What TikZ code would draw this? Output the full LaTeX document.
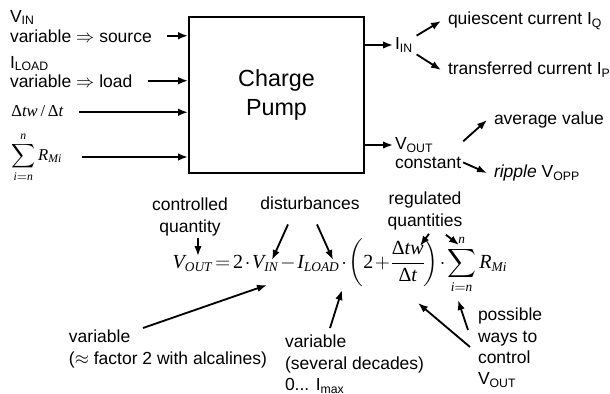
\documentclass[tikz,border=0pt]{standalone}
\usepackage{amsmath}
\usepackage{fontspec}
\setmainfont{Liberation Sans}
\newfontfamily\tms{Liberation Serif}
\newcommand{\ti}[1]{\text{\tms\itshape #1}}
\newcommand{\tu}[1]{\text{\tms #1}}
\usetikzlibrary{arrows.meta}

\tikzset{
  lbl/.style={font=\fontsize{10.5}{12.8}\selectfont, inner sep=1pt, align=left},
  mth/.style={font=\fontsize{10}{12}\selectfont, inner sep=0pt},
  arr/.style={line width=1.1pt, -{Latex[length=6pt,width=4.5pt]}},
}

\begin{document}
\begin{tikzpicture}[x=0.6pt,y=-0.6pt]
\useasboundingbox (0,0) rectangle (610,394);
\node[draw,line width=1.1pt,minimum width=105pt,minimum height=93.6pt,font=\fontsize{14}{17}\selectfont,align=center] (cp) at (276.5,95) {Charge\\Pump};
% inputs
\node[lbl,anchor=base west] (vin) at (8,22) {V\textsubscript{IN}};
\node[lbl,anchor=base west] (src) at (8,42) {variable $\Rightarrow$ source};
\node[lbl,anchor=base west] (ild) at (8,68) {I\textsubscript{LOAD}};
\node[lbl,anchor=base west] (load) at (8,87) {variable $\Rightarrow$ load};
\node[mth,anchor=base west] (dtw) at (11,116) {$\tu{Δ}\ti{tw}\,\tu{/}\,\tu{Δ}\ti{t}$};
\node[mth,anchor=west] (sum) at (11,157) {$\displaystyle\sum_{\ti{i}=\ti{n}}^{\ti{n}} \ti{R}_{\ti{Mi}}$};
\draw[arr] ([xshift=8pt]src.east) -- (src.east -| cp.west);
\draw[arr] ([xshift=8pt]load.east) -- (load.east -| cp.west);
\draw[arr] ([xshift=9pt,yshift=-1pt]dtw.east) -- ([yshift=-1pt]dtw.east -| cp.west);
\draw[arr] ([xshift=12pt]sum.east) -- (sum.east -| cp.west);
% outputs
\node[lbl,anchor=west] (iin) at (393,45) {I\textsubscript{IN}};
\node[lbl,anchor=west] (qc) at (446,21) {quiescent current I\textsubscript{Q}};
\node[lbl,anchor=west] (tc) at (446,70) {transferred current I\textsubscript{P}};
\draw[arr] (iin.west -| cp.east) -- (iin.west);
\draw[arr] ([xshift=1pt]iin.north east) -- ([xshift=-3pt]qc.west);
\draw[arr] ([xshift=1pt]iin.south east) -- ([xshift=-3pt]tc.west);
\node[lbl,anchor=west] (vout) at (393,145) {V\textsubscript{OUT}};
\node[lbl,anchor=base west] (cst) at (393,168) {constant};
\node[lbl,anchor=west] (avg) at (492,120) {average value};
\node[lbl,anchor=west] (rip) at (492,173) {\textit{ripple} V\textsubscript{OPP}};
\draw[arr] (vout.west -| cp.east) -- (vout.west);
\draw[arr] ([yshift=8pt]cst.north east) -- ([xshift=-3pt]avg.west);
\draw[arr] (cst.east) -- ([xshift=-3pt]rip.west);
% equation
\node[font=\fontsize{12}{14}\selectfont,anchor=base,inner sep=0pt] (eq) at (340,268) {\medmuskip=1.5mu\thickmuskip=2.5mu\nulldelimiterspace=0pt$\displaystyle \ti{V}_{\ti{OUT}} = \tu{2}\cdot\ti{V}_{\ti{IN}} - \ti{I}_{\ti{LOAD}}\cdot\biggl(\tu{2}+\frac{\tu{Δ}\ti{tw}}{\tu{Δ}\ti{t}}\biggr)\cdot\sum_{\ti{i}=\ti{n}}^{\ti{n}} \ti{R}_{\ti{Mi}}$};
\coordinate (cVout) at (198,256);
\coordinate (cVin) at (272,260);
\coordinate (cIld) at (333,260);
\coordinate (cDtw) at (420,246);
\coordinate (cSumT) at (459,245);
\coordinate (cVin2) at (267,285);
\coordinate (cIld2) at (342,290);
\coordinate (cDt) at (418,303);
\coordinate (cSumB) at (458,300);
% labels around the equation
\node[lbl,align=center] (ctrl) at (190,217) {controlled\\quantity};
\node[lbl] (dist) at (310,203) {disturbances};
\node[lbl,align=center] (reg) at (425,211) {regulated\\quantities};
\draw[arr] (ctrl.south -| cVout) -- (cVout);
\draw[arr] ([shift={(-22,13)}]dist.south) -- (cVin);
\draw[arr] ([shift={(7,13)}]dist.south) -- (cIld);
\draw[arr] ([shift={(4,2)}]reg.south) -- (cDtw);
\draw[arr] ([shift={(21,3)}]reg.south) -- (cSumT);
\node[lbl,anchor=north west] (var1) at (67,328) {variable\\($\approx$ factor 2 with alcalines)};
\node[lbl,anchor=north west] (var2) at (283,333) {variable\\(several decades)\\0... I\textsubscript{max}};
\node[lbl,anchor=north west] (ways) at (476,306) {possible\\ways to\\control\\V\textsubscript{OUT}};
\draw[arr] ([shift={(76,0)}]var1.north west) -- (cVin2);
\draw[arr] ([shift={(47,-5)}]var2.north west) -- (cIld2);
\draw[arr] ([shift={(-6,41)}]ways.north west) -- (cDt);
\draw[arr] ([shift={(-8,24)}]ways.north west) -- (cSumB);
\end{tikzpicture}
\end{document}
